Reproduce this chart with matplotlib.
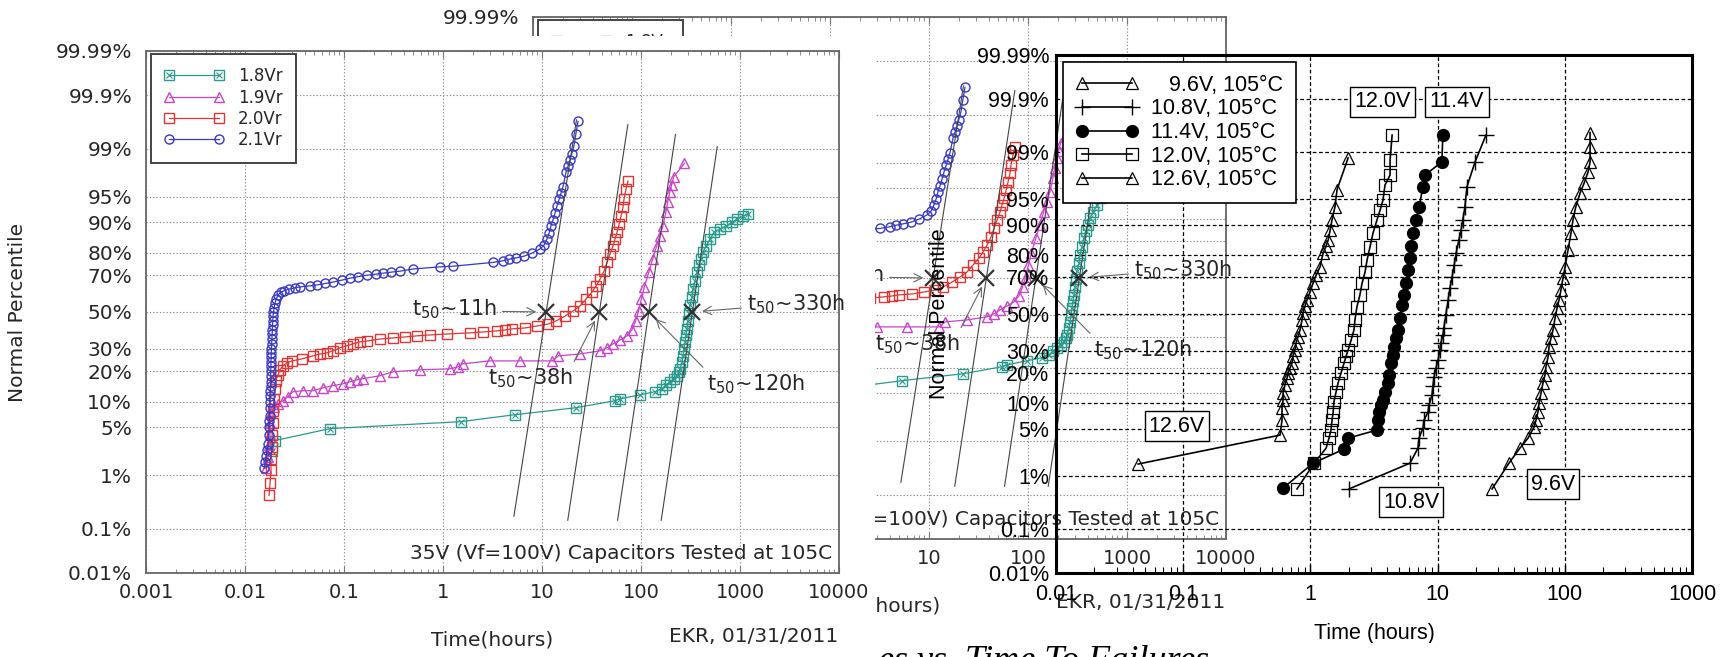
import math
import numpy as np
import matplotlib
matplotlib.use('Agg')
import matplotlib.pyplot as plt
from matplotlib.patches import Rectangle
from matplotlib.legend_handler import HandlerTuple
from matplotlib.ticker import NullLocator, LogLocator, NullFormatter

W, H = 1731, 657

pct_ticks = [0.01, 0.1, 1, 5, 10, 20, 30, 50, 70, 80, 90, 95, 99, 99.9, 99.99]
pct_labels = ['0.01%', '0.1%', '1%', '5%', '10%', '20%', '30%', '50%',
              '70%', '80%', '90%', '95%', '99%', '99.9%', '99.99%']

# ---- 35V (Vf=100V) capacitors at 105C, four stress levels ----
x_ticks_a = [1e-3, 1e-2, 1e-1, 1, 10, 100, 1000, 10000]
x_labels_a = ['0.001', '0.01', '0.1', '1', '10', '100', '1000', '10000']

t_18 = [0.0188, 0.0201, 0.0723, 1.52, 5.33, 22.0, 54.6, 61.4, 97.7, 138,
        163, 179, 196, 215, 231, 242, 248, 260, 266, 272,
        278, 285, 292, 299, 306, 313, 328, 335, 351, 368,
        385, 404, 423, 454, 498, 546, 628, 722, 830, 933,
        1072, 1205]
p_18 = [2.42, 3.35, 4.83, 5.91, 7.17, 8.63, 10.3, 10.8, 11.9, 12.8,
        13.7, 15.0, 16.0, 17.1, 18.2, 19.7, 20.9, 23.9, 26.6, 29.9,
        33.5, 37.2, 40.5, 44.9, 49.4, 54.0, 58.4, 62.8, 67.0, 71.5,
        74.8, 77.4, 80.3, 82.6, 85.0, 87.2, 88.1, 88.9, 89.9, 90.7,
        91.4, 91.8]

t_19 = [0.0163, 0.0171, 0.0175, 0.0179, 0.0179, 0.0183, 0.0196, 0.0215, 0.0242, 0.0272,
        0.0305, 0.0386, 0.0485, 0.0613, 0.0774, 0.0977, 0.115, 0.135, 0.156, 0.231,
        0.313, 0.585, 1.17, 1.41, 1.58, 2.96, 6.0, 12.7, 14.6, 24.2,
        38.5, 45.4, 52.1, 61.4, 72.1, 80.9, 88.1, 94.5, 101, 108,
        120, 131, 144, 154, 166, 178, 186, 195, 204, 214,
        275]
p_19 = [1.29, 1.97, 2.94, 4.16, 5.74, 7.57, 8.86, 9.56, 10.3, 11.4,
        12.8, 13.1, 13.1, 14.0, 14.7, 15.3, 16.0, 16.7, 17.1, 18.2,
        19.7, 20.5, 20.9, 21.7, 23.0, 24.3, 24.3, 24.3, 26.6, 27.5,
        29.0, 30.5, 32.5, 34.5, 36.7, 39.9, 44.9, 50.6, 57.3, 63.9,
        71.5, 77.4, 82.6, 86.0, 88.9, 92.2, 94.1, 95.6, 96.5, 97.3,
        98.3]

t_20 = [0.0175, 0.0179, 0.0183, 0.0183, 0.0188, 0.0188, 0.0192, 0.0192, 0.0196, 0.0201,
        0.0205, 0.0215, 0.0225, 0.0242, 0.0265, 0.0298, 0.0374, 0.0485, 0.0573, 0.0673,
        0.0774, 0.0912, 0.107, 0.123, 0.145, 0.171, 0.231, 0.313, 0.413, 0.546,
        0.739, 1.10, 1.87, 2.54, 3.51, 4.23, 4.97, 6.73, 8.9, 11.5,
        13.8, 17.1, 20.6, 24.2, 27.8, 32.0, 35.1, 38.5, 42.3, 45.4,
        48.6, 52.1, 54.6, 57.3, 60.0, 62.8, 65.8, 67.3, 70.5, 73.9]
p_20 = [0.45, 0.73, 1.2, 1.84, 2.76, 4.03, 5.74, 7.99, 10.8, 13.7,
        16.4, 18.5, 20.5, 22.2, 23.4, 24.3, 25.2, 26.6, 27.5, 28.0,
        29.0, 30.5, 31.5, 32.5, 33.5, 34.0, 35.0, 35.6, 36.1, 36.7,
        37.2, 37.7, 38.3, 38.8, 39.4, 39.9, 40.5, 41.0, 42.1, 43.2,
        44.9, 47.7, 50.6, 53.4, 57.3, 61.2, 64.4, 68.0, 72.0, 76.1,
        79.5, 82.6, 85.0, 87.2, 89.4, 91.4, 93.2, 94.6, 96.0, 96.9]

t_21 = [0.0156, 0.0160, 0.0163, 0.0167, 0.0171, 0.0173, 0.0175, 0.0176, 0.0177, 0.0178,
        0.0179, 0.0180, 0.0180, 0.0181, 0.0181, 0.0182, 0.0182, 0.0183, 0.0183, 0.0184,
        0.0184, 0.0185, 0.0186, 0.0187, 0.0188, 0.0189, 0.0190, 0.0191, 0.0192, 0.0194,
        0.0197, 0.0201, 0.0207, 0.0215, 0.023, 0.025, 0.028, 0.032, 0.036, 0.045,
        0.053, 0.065, 0.077, 0.095, 0.115, 0.14, 0.17, 0.21, 0.25, 0.30,
        0.37, 0.50, 0.93, 1.26, 3.2, 4.0, 4.65, 5.5, 6.6, 8.0,
        9.5, 10.5, 11.2, 11.8, 12.3, 12.9, 13.5, 14.2, 14.9, 15.6,
        16.3, 17.5, 18.3, 19.2, 20.0, 21.0, 22.0, 23.1]
p_21 = [1.3, 1.6, 2.0, 2.5, 3.0, 4.0, 5.0, 6.0, 7.0, 8.5,
        10, 11.5, 13, 14.5, 16, 18, 20, 22, 24, 26,
        28, 30, 32.5, 35, 37.5, 40, 42.5, 45, 47.5, 50,
        52.5, 55, 57.5, 59.5, 61, 62, 62.8, 63.5, 64, 64.5,
        65, 65.8, 66.5, 67.5, 68.5, 69.3, 70, 70.5, 71, 71.5,
        72, 73, 74, 74.3, 76, 76.7, 77.4, 78, 78.7, 80,
        81.5, 83, 85, 87, 89, 90.5, 92, 93.5, 94.6, 95.5,
        96.3, 97.7, 98.1, 98.5, 98.8, 99.1, 99.45, 99.67]

t50_hours = [11, 38, 120, 330]
fit_t = [[5.2, 22.3], [18.2, 73.6], [58, 223], [160, 589]]
fit_p = [[0.18, 99.69], [0.15, 99.62], [0.15, 99.43], [0.15, 99.08]]

# ---- five voltages at 105C ----
x_ticks_b = [0.01, 0.1, 1, 10, 100, 1000]
x_labels_b = ['0.01', '0.1', '1', '10', '100', '1000']

t_96 = [26.8, 36.4, 44.4, 51.4, 57.3, 59.4, 61.5, 62.7, 65.0, 67.4,
        69.9, 71.1, 73.8, 75.2, 77.9, 80.8, 83.8, 86.9, 90.0, 93.3,
        96.8, 100.5, 106, 112, 116, 122, 132, 142, 152, 158,
        158, 158]
p_96 = [0.60, 1.61, 2.71, 3.74, 5.22, 6.39, 7.96, 10.0, 12.8, 16.1,
        19.1, 22.3, 26.8, 31.8, 36.5, 40.9, 47.7, 53.4, 58.0, 63.5,
        69.7, 75.0, 82.1, 87.8, 91.2, 93.8, 95.9, 97.0, 97.9, 98.55,
        99.18, 99.54]

t_108 = [2.01, 6.07, 7.01, 7.14, 7.68, 7.82, 8.41, 8.56, 9.03, 9.20,
         9.37, 9.71, 10.1, 10.4, 10.6, 11.0, 11.2, 11.6, 12.1, 12.5,
         13.0, 13.5, 14.0, 14.7, 15.3, 15.8, 16.4, 17.0, 19.7, 24.0]
p_108 = [0.60, 1.61, 2.71, 3.74, 5.07, 6.39, 7.96, 9.56, 12.2, 15.1,
         18.3, 21.9, 25.4, 30.3, 33.8, 38.1, 42.0, 49.4, 58.0, 64.6,
         70.3, 75.9, 81.0, 85.6, 88.6, 91.2, 93.8, 96.6, 98.55, 99.49]

t_114 = [0.609, 1.05, 1.84, 1.98, 3.34, 3.40, 3.46, 3.59, 3.72, 3.86,
         4.08, 4.15, 4.31, 4.46, 4.54, 4.71, 4.89, 5.06, 5.25, 5.45,
         5.65, 5.85, 6.07, 6.18, 6.41, 6.77, 7.14, 7.68, 7.96, 10.8,
         11.0]
p_114 = [0.62, 1.61, 2.62, 3.74, 4.78, 6.39, 7.96, 9.56, 10.8, 13.1,
         16.1, 19.1, 24.1, 27.8, 31.8, 36.5, 40.9, 47.7, 55.1, 60.8,
         67.2, 73.6, 79.0, 83.6, 87.8, 91.2, 93.8, 96.6, 97.7, 98.55,
         99.49]

t_120 = [0.785, 1.07, 1.33, 1.40, 1.45, 1.48, 1.51, 1.53, 1.59, 1.65,
         1.74, 1.84, 1.91, 1.98, 2.09, 2.20, 2.24, 2.32, 2.45, 2.55,
         2.69, 2.79, 2.94, 3.11, 3.34, 3.53, 3.72, 3.86, 4.23, 4.23,
         4.39]
p_120 = [0.60, 1.61, 2.71, 3.74, 4.78, 6.39, 7.96, 10.3, 13.1, 16.1,
         19.8, 24.1, 27.3, 30.3, 35.4, 40.9, 46.6, 54.0, 60.8, 67.2,
         72.7, 78.1, 83.2, 87.8, 91.2, 93.2, 94.9, 96.8, 97.7, 98.65,
         99.49]

t_126 = [0.0442, 0.577, 0.598, 0.598, 0.609, 0.609, 0.631, 0.655, 0.667, 0.692,
         0.717, 0.730, 0.757, 0.771, 0.800, 0.829, 0.859, 0.875, 0.908, 0.941,
         0.993, 1.05, 1.11, 1.19, 1.26, 1.33, 1.38, 1.43, 1.48, 1.56,
         1.62, 1.98]
p_126 = [1.56, 4.10, 6.39, 8.84, 10.8, 12.8, 15.4, 17.9, 19.8, 21.9,
         24.1, 27.3, 30.3, 33.8, 37.1, 40.9, 46.6, 50.6, 54.6, 58.0,
         62.4, 67.2, 71.2, 75.0, 81.0, 83.6, 85.6, 88.6, 91.2, 93.8,
         96.3, 98.75]

tag_text = ['12.6V', '12.0V', '11.4V', '10.8V', '9.6V']
tag_t = [0.0893, 3.66, 14.2, 6.18, 80.7]
tag_p = [5.38, 99.884, 99.884, 0.347, 0.728]


# normal probability scale (percent <-> standard normal score)
_A = [-3.969683028665376e+01, 2.209460984245205e+02, -2.759285104469687e+02,
      1.383577518672690e+02, -3.066479806614716e+01, 2.506628277459239e+00]
_B = [-5.447609879822406e+01, 1.615858368580409e+02, -1.556989798598866e+02,
      6.680131188771972e+01, -1.328068155288572e+01]
_C = [-7.784894002430293e-03, -3.223964580411365e-01, -2.400758277161838e+00,
      -2.549732539343734e+00, 4.374664141464968e+00, 2.938163982698783e+00]
_D = [7.784695709041462e-03, 3.224671290700398e-01, 2.445134137142996e+00,
      3.754408661907416e+00]


def _ppf(p):
    p = min(max(p, 1e-12), 1 - 1e-12)
    if p < 0.02425:
        q = math.sqrt(-2 * math.log(p))
        return (((((_C[0]*q+_C[1])*q+_C[2])*q+_C[3])*q+_C[4])*q+_C[5]) / \
               ((((_D[0]*q+_D[1])*q+_D[2])*q+_D[3])*q+1)
    if p > 1 - 0.02425:
        q = math.sqrt(-2 * math.log(1 - p))
        return -(((((_C[0]*q+_C[1])*q+_C[2])*q+_C[3])*q+_C[4])*q+_C[5]) / \
                ((((_D[0]*q+_D[1])*q+_D[2])*q+_D[3])*q+1)
    q = p - 0.5
    r = q * q
    return (((((_A[0]*r+_A[1])*r+_A[2])*r+_A[3])*r+_A[4])*r+_A[5])*q / \
           (((((_B[0]*r+_B[1])*r+_B[2])*r+_B[3])*r+_B[4])*r+1)


def pct_to_z(v):
    v = np.asarray(v, dtype=float)
    return np.vectorize(lambda s: _ppf(s / 100.0), otypes=[float])(v)


def z_to_pct(z):
    z = np.asarray(z, dtype=float)
    return np.vectorize(lambda s: 50.0 * (1 + math.erf(s / math.sqrt(2))), otypes=[float])(z)


def px_axes(fig, x0, y0, x1, y1, **kw):
    return fig.add_axes([x0 / W, 1 - y1 / H, (x1 - x0) / W, (y1 - y0) / H], **kw)


def prob_yaxis(ax):
    ax.set_yscale('function', functions=(pct_to_z, z_to_pct))
    ax.set_ylim(0.01, 99.99)
    ax.set_yticks(pct_ticks, pct_labels)
    ax.yaxis.set_minor_locator(NullLocator())


def t50_label(h):
    return r'$\mathregular{t_{50}}$~' + h + 'h'


def draw_stress_chart(ax):
    gray = '#262626'
    ax.set_xscale('log')
    ax.set_xlim(1e-3, 1e4)
    prob_yaxis(ax)
    ax.set_xticks(x_ticks_a, x_labels_a)
    ax.xaxis.set_minor_locator(LogLocator(base=10, subs=np.arange(2, 10), numticks=30))
    ax.xaxis.set_minor_formatter(NullFormatter())
    ax.grid(True, which='major', color='#8c8c8c', lw=0.8, ls=(0, (1.2, 1.8)))
    ax.tick_params(axis='x', which='both', direction='in', top=True, color='#777',
                   labelcolor=gray, labelsize=14, pad=7)
    ax.tick_params(axis='x', which='major', length=5)
    ax.tick_params(axis='x', which='minor', length=3)
    ax.tick_params(axis='y', length=0, labelcolor=gray, labelsize=14.5, pad=10)
    for s in ax.spines.values():
        s.set_color('#666')
        s.set_linewidth(1.3)

    c18, c19, c20, c21 = '#2a9a8c', '#c844c8', '#e03535', '#3838c0'
    mk = dict(ms=6.5, mfc='none', mew=1.0)
    h18 = ax.plot(t_18, p_18, color=c18, lw=0.9, marker='s', mec=c18, **mk)[0]
    h18x = ax.plot(t_18, p_18, ls='none', marker='x', ms=4.5, mec=c18, mew=0.8)[0]
    h19 = ax.plot(t_19, p_19, color=c19, lw=0.9, marker='^', mec=c19, **mk)[0]
    h20 = ax.plot(t_20, p_20, color=c20, lw=0.9, marker='s', mec=c20, **mk)[0]
    h21 = ax.plot(t_21, p_21, color=c21, lw=0.9, marker='o', mec=c21, **mk)[0]

    for ft, fp in zip(fit_t, fit_p):
        ax.plot(ft, fp, color='#444', lw=0.8)
    ax.plot(t50_hours, [50] * len(t50_hours), ls='none', marker='x', ms=11,
            mew=1.6, color='#333')

    arrow = dict(arrowstyle='->', color='#666', lw=0.8, shrinkA=2, shrinkB=7)
    ax.annotate(t50_label('11'), xy=(11, 50), xytext=(3.5, 51.7), ha='right', va='center',
                fontsize=15, color=gray, arrowprops=dict(arrow, relpos=(1, 0.4)))
    ax.annotate(t50_label('38'), xy=(38, 50), xytext=(7.6, 17.1), ha='center', va='center',
                fontsize=15, color=gray, arrowprops=dict(arrow, relpos=(0.97, 0.9)))
    ax.annotate(t50_label('120'), xy=(120, 50), xytext=(464, 15.3), ha='left', va='center',
                fontsize=15, color=gray, arrowprops=dict(arrow, relpos=(0.03, 0.9)))
    ax.annotate(t50_label('330'), xy=(330, 50), xytext=(1178, 54.5), ha='left', va='center',
                fontsize=15, color=gray, arrowprops=dict(arrow, relpos=(0, 0.35)))

    leg = ax.legend([(h18, h18x), h19, h20, h21], ['1.8Vr', '1.9Vr', '2.0Vr', '2.1Vr'],
                    handler_map={tuple: HandlerTuple(ndivide=1)},
                    loc='upper left', bbox_to_anchor=(0.0072, 0.9943), borderaxespad=0,
                    fontsize=12, numpoints=2, handlelength=3.6, handletextpad=0.8,
                    borderpad=0.8, labelspacing=0.2, fancybox=False, framealpha=1,
                    edgecolor='#444')
    leg.get_frame().set_linewidth(1.4)
    for txt in leg.get_texts():
        txt.set_color(gray)

    ax.text(0.99, 0.038, '35V (Vf=100V) Capacitors Tested at 105C', transform=ax.transAxes,
            ha='right', va='center', fontsize=14.5, color=gray)
    ax.text(0.5, -0.128, 'Time(hours)', transform=ax.transAxes, ha='center', va='center',
            fontsize=14.5, color=gray)
    ax.text(0.9986, -0.1226, 'EKR, 01/31/2011', transform=ax.transAxes, ha='right',
            va='center', fontsize=14.5, color=gray)
    ax.set_ylabel('Normal Percentile', fontsize=14.5, color=gray)
    ax.yaxis.set_label_coords(-0.172, 0.5)


def draw_voltage_chart(ax):
    fam = ['Liberation Sans', 'DejaVu Sans']
    fs = 15.5
    ax.set_facecolor('none')
    ax.set_xscale('log')
    ax.set_xlim(0.01, 1000)
    prob_yaxis(ax)
    ax.set_xticks(x_ticks_b, x_labels_b)
    ax.xaxis.set_minor_locator(LogLocator(base=10, subs=np.arange(2, 10), numticks=30))
    ax.xaxis.set_minor_formatter(NullFormatter())
    ax.grid(True, which='major', color='black', lw=0.9, ls=(0, (3, 2)))
    ax.tick_params(axis='x', which='both', direction='in', labelsize=fs, pad=8,
                   labelfontfamily=fam)
    ax.tick_params(axis='x', which='major', length=6, width=1)
    ax.tick_params(axis='x', which='minor', length=4, width=0.8)
    ax.tick_params(axis='y', length=0, labelsize=fs, pad=5, labelfontfamily=fam)
    for s in ax.spines.values():
        s.set_color('black')
        s.set_linewidth(2.2)

    line = dict(color='black', lw=1.2)
    h96 = ax.plot(t_96, p_96, marker='^', ms=8.5, mfc='none', mec='black', mew=0.9, **line)[0]
    h108 = ax.plot(t_108, p_108, marker='+', ms=11, mec='black', mew=1.0, **line)[0]
    h114 = ax.plot(t_114, p_114, marker='o', ms=8.5, mfc='black', mec='black', **line)[0]
    h120 = ax.plot(t_120, p_120, marker='s', ms=8, mfc='none', mec='black', mew=0.9, **line)[0]
    h126 = ax.plot(t_126, p_126, marker='^', ms=8.5, mfc='none', mec='black', mew=0.9, **line)[0]

    leg = ax.legend([h96, h108, h114, h120, h126],
                    ['\u2007 9.6V, 105\u00b0C', '10.8V, 105\u00b0C', '11.4V, 105\u00b0C',
                     '12.0V, 105\u00b0C', '12.6V, 105\u00b0C'],
                    loc='upper left', bbox_to_anchor=(0.011, 0.9865), borderaxespad=0,
                    prop={'family': fam, 'size': fs}, numpoints=2, handlelength=2.9,
                    handletextpad=0.6, borderpad=0.6, labelspacing=0.12, fancybox=False,
                    framealpha=1, edgecolor='black')
    leg.get_frame().set_linewidth(1.2)

    for s, tt, pp in zip(tag_text, tag_t, tag_p):
        ax.text(tt, pp, s, ha='center', va='center', fontsize=fs, family=fam,
                bbox=dict(boxstyle='square,pad=0.2', fc='white', ec='black', lw=1))

    ax.set_xlabel('Time (hours)', fontsize=fs, family=fam)
    ax.xaxis.set_label_coords(0.5, -0.097)
    ax.set_ylabel('Normal Percentile', fontsize=fs, family=fam)
    ax.yaxis.set_label_coords(-0.167, 0.5)


fig = plt.figure(figsize=(W / 100, H / 100), dpi=100)

ax_back = px_axes(fig, 533, 17, 1226, 539, zorder=0)
draw_stress_chart(ax_back)

fig.patches.append(Rectangle((0, 0), 875 / W, (H - 36) / H, transform=fig.transFigure,
                             fc='white', ec='none', zorder=1))
fig.text(878 / W, 1 - 645 / H, 'es vs. Time To Failures', family='Liberation Serif',
         style='italic', fontsize=26, ha='left', va='top', zorder=1.5)

ax_left = px_axes(fig, 146, 51, 839, 573, zorder=2)
draw_stress_chart(ax_left)

ax_right = px_axes(fig, 1056, 55, 1692, 573, zorder=3)
draw_voltage_chart(ax_right)

fig.patches.append(Rectangle((1240 / W, 0), (W - 1240) / W, 14 / H, transform=fig.transFigure,
                             fc='white', ec='none', zorder=10))

fig.savefig('out.png', dpi=100)
